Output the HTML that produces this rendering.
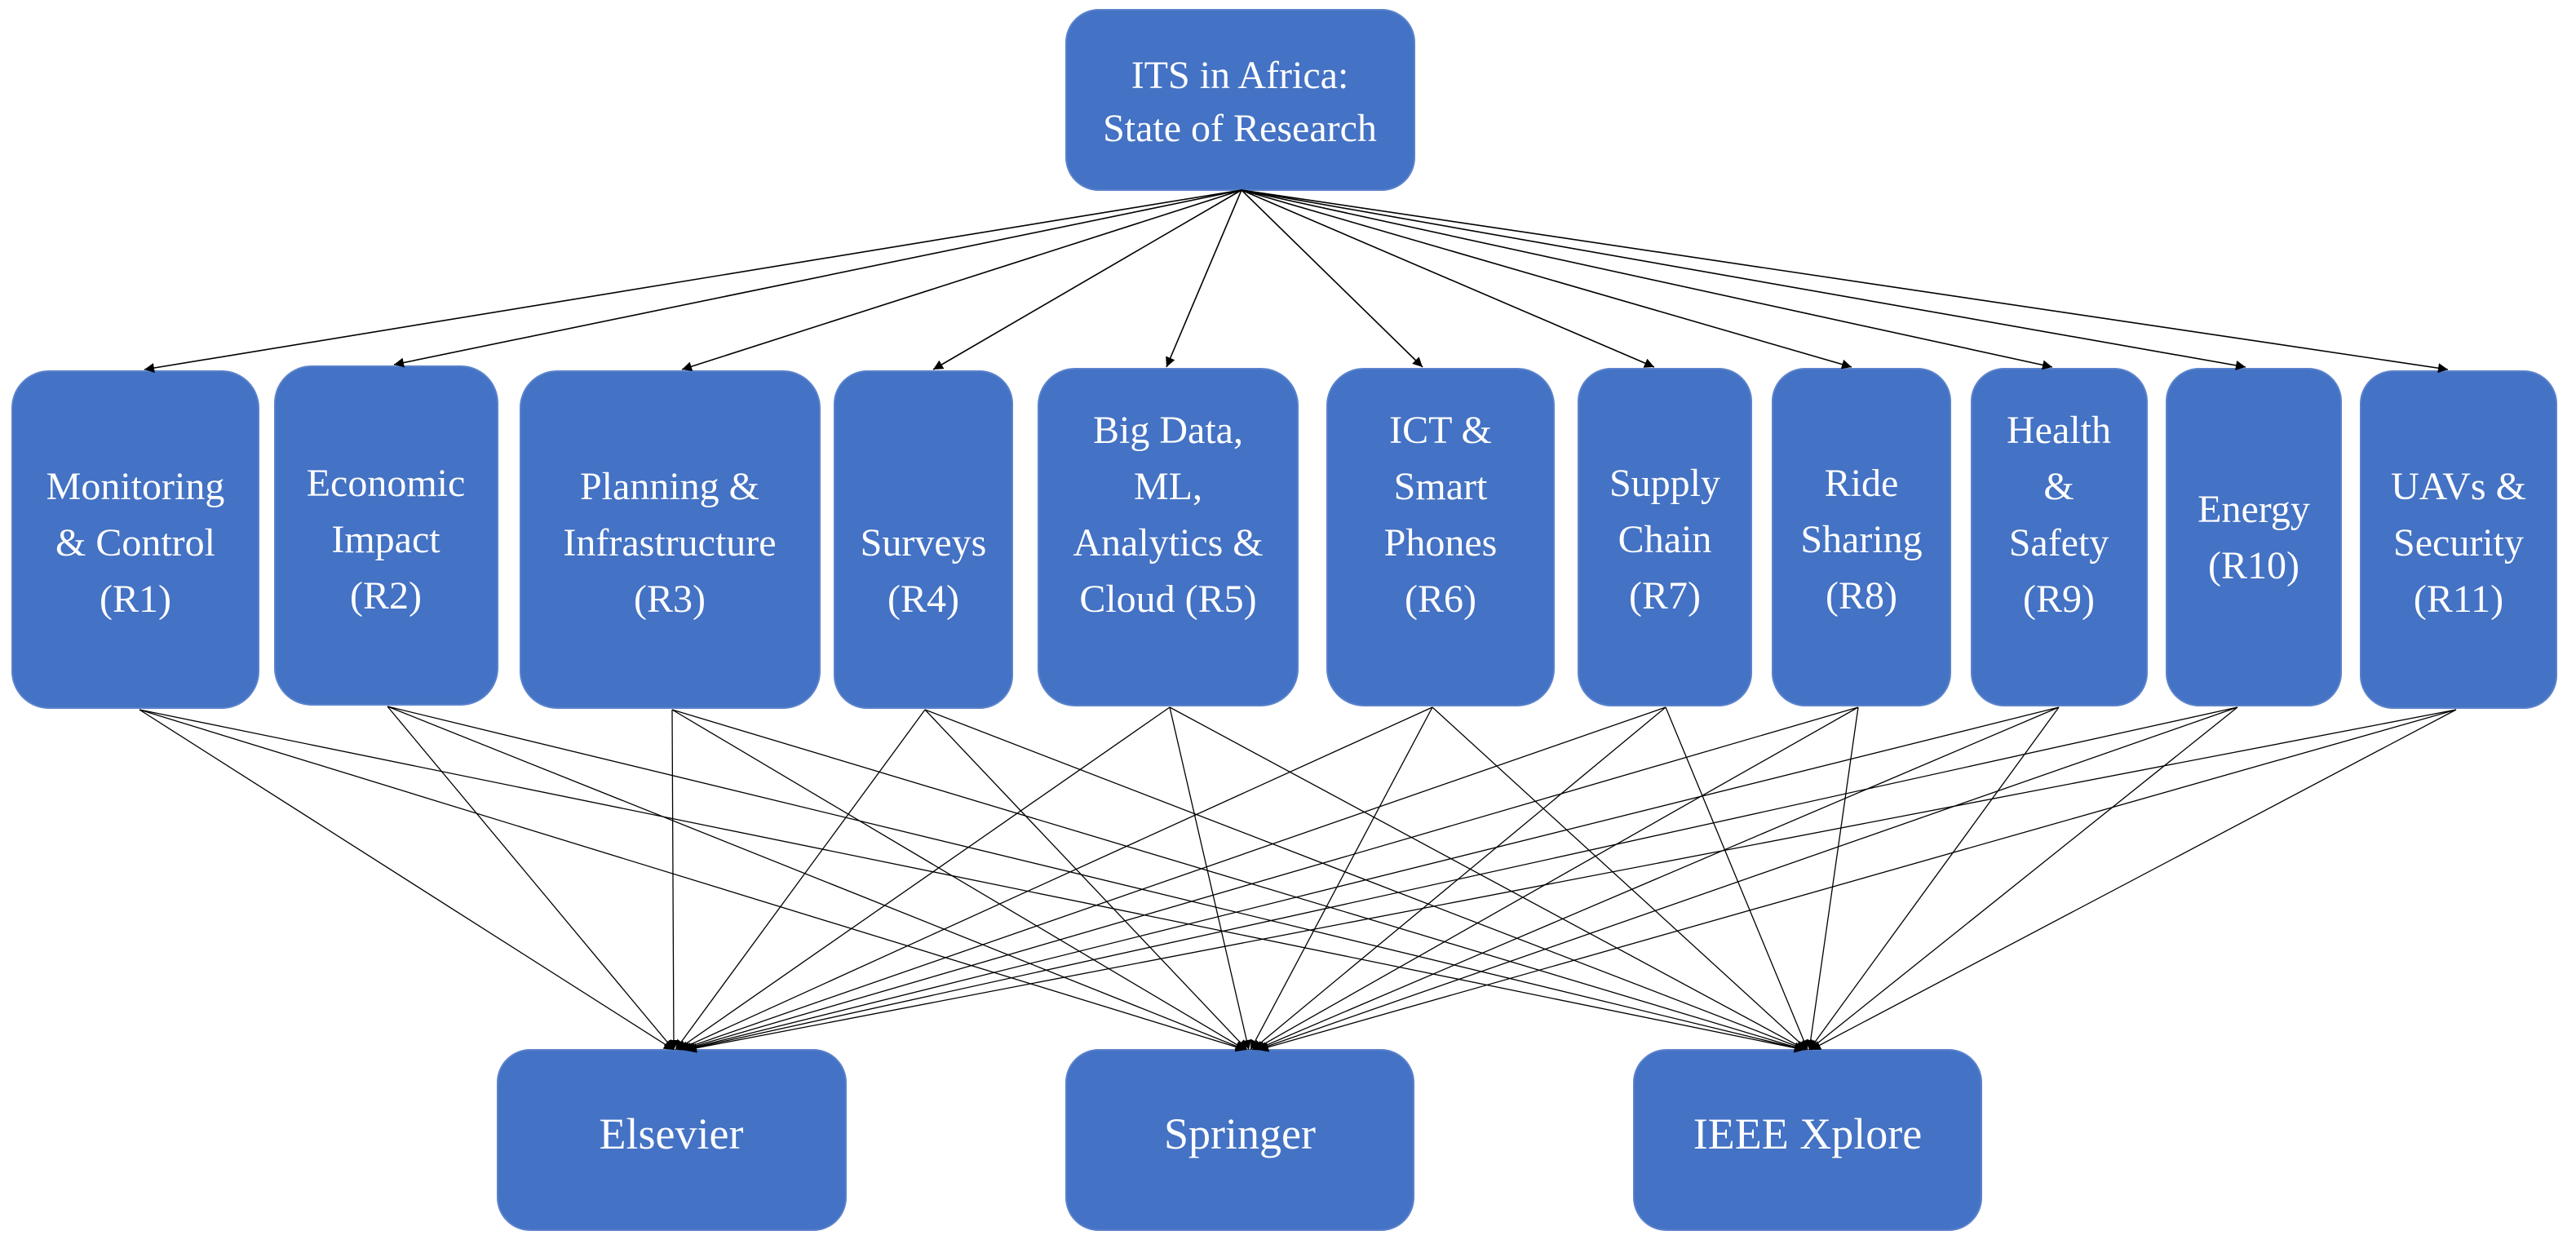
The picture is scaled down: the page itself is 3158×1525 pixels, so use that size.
<!DOCTYPE html>
<html><head><meta charset="utf-8"><style>
html,body{margin:0;padding:0;background:#fff;}
svg{display:block;}
text{font-family:"Liberation Serif",serif;fill:#fff;text-anchor:middle;}
</style></head><body>
<svg width="3158" height="1525" viewBox="0 0 3158 1525" xmlns="http://www.w3.org/2000/svg">
<defs>
<marker id="a" viewBox="0 0 10 10" refX="10" refY="5" markerWidth="16" markerHeight="12" markerUnits="userSpaceOnUse" orient="auto">
<path d="M0,0 L10,5 L0,10 z" fill="#000"/>
</marker>
</defs>
<g fill="#4472C4" stroke="#5a82cc" stroke-width="2">
<rect x="1307" y="12" width="427" height="221" rx="40"/>
<rect x="15" y="455" width="302" height="413" rx="45"/>
<rect x="337" y="449" width="273" height="415" rx="45"/>
<rect x="638" y="455" width="367" height="413" rx="45"/>
<rect x="1023" y="455" width="218" height="413" rx="40"/>
<rect x="1273" y="452" width="318" height="413" rx="45"/>
<rect x="1627" y="452" width="278" height="413" rx="45"/>
<rect x="1935" y="452" width="212" height="413" rx="40"/>
<rect x="2173" y="452" width="218" height="413" rx="40"/>
<rect x="2417" y="452" width="215" height="413" rx="40"/>
<rect x="2656" y="452" width="214" height="413" rx="40"/>
<rect x="2894" y="455" width="240" height="413" rx="40"/>
<rect x="610" y="1287" width="427" height="221" rx="40"/>
<rect x="1307" y="1287" width="426" height="221" rx="40"/>
<rect x="2003" y="1287" width="426" height="221" rx="40"/>
</g>
<g stroke="#000" stroke-width="1.6" fill="none" marker-end="url(#a)">
<line x1="1522" y1="233" x2="177" y2="453"/>
<line x1="1522" y1="233" x2="483" y2="447"/>
<line x1="1522" y1="233" x2="836" y2="453"/>
<line x1="1522" y1="233" x2="1144" y2="453"/>
<line x1="1522" y1="233" x2="1430" y2="450"/>
<line x1="1522" y1="233" x2="1744" y2="450"/>
<line x1="1522" y1="233" x2="2028" y2="450"/>
<line x1="1522" y1="233" x2="2270" y2="450"/>
<line x1="1522" y1="233" x2="2516" y2="450"/>
<line x1="1522" y1="233" x2="2753" y2="450"/>
<line x1="1522" y1="233" x2="3001" y2="453"/>
</g>
<g stroke="#000" stroke-width="1.3" fill="none" marker-end="url(#a)">
<line x1="171" y1="870" x2="826" y2="1287"/><line x1="171" y1="870" x2="1527" y2="1287"/><line x1="171" y1="870" x2="2212" y2="1287"/>
<line x1="475" y1="866" x2="826" y2="1287"/><line x1="475" y1="866" x2="1527" y2="1287"/><line x1="475" y1="866" x2="2212" y2="1287"/>
<line x1="824" y1="870" x2="826" y2="1287"/><line x1="824" y1="870" x2="1527" y2="1287"/><line x1="824" y1="870" x2="2212" y2="1287"/>
<line x1="1134" y1="870" x2="828" y2="1287"/><line x1="1134" y1="870" x2="1529" y2="1287"/><line x1="1134" y1="870" x2="2214" y2="1287"/>
<line x1="1434" y1="867" x2="830" y2="1287"/><line x1="1434" y1="867" x2="1531" y2="1287"/><line x1="1434" y1="867" x2="2214" y2="1287"/>
<line x1="1756" y1="867" x2="832" y2="1287"/><line x1="1756" y1="867" x2="1533" y2="1287"/><line x1="1756" y1="867" x2="2216" y2="1287"/>
<line x1="2042" y1="867" x2="834" y2="1287"/><line x1="2042" y1="867" x2="1535" y2="1287"/><line x1="2042" y1="867" x2="2216" y2="1287"/>
<line x1="2278" y1="867" x2="836" y2="1287"/><line x1="2278" y1="867" x2="1537" y2="1287"/><line x1="2278" y1="867" x2="2218" y2="1287"/>
<line x1="2524" y1="867" x2="838" y2="1287"/><line x1="2524" y1="867" x2="1539" y2="1287"/><line x1="2524" y1="867" x2="2218" y2="1287"/>
<line x1="2743" y1="867" x2="840" y2="1287"/><line x1="2743" y1="867" x2="1541" y2="1287"/><line x1="2743" y1="867" x2="2218" y2="1287"/>
<line x1="3011" y1="870" x2="842" y2="1287"/><line x1="3011" y1="870" x2="1543" y2="1287"/><line x1="3011" y1="870" x2="2220" y2="1287"/>
</g>
<g font-size="48">
<text x="1520" y="108">ITS in Africa:</text>
<text x="1520" y="173">State of Research</text>
<text x="166" y="612">Monitoring</text><text x="166" y="681">&amp; Control</text><text x="166" y="750">(R1)</text>
<text x="473" y="608">Economic</text><text x="473" y="677">Impact</text><text x="473" y="746">(R2)</text>
<text x="821" y="612">Planning &amp;</text><text x="821" y="681">Infrastructure</text><text x="821" y="750">(R3)</text>
<text x="1132" y="681">Surveys</text><text x="1132" y="750">(R4)</text>
<text x="1432" y="543">Big Data,</text><text x="1432" y="612">ML,</text><text x="1432" y="681">Analytics &amp;</text><text x="1432" y="750">Cloud (R5)</text>
<text x="1766" y="543">ICT &amp;</text><text x="1766" y="612">Smart</text><text x="1766" y="681">Phones</text><text x="1766" y="750">(R6)</text>
<text x="2041" y="608">Supply</text><text x="2041" y="677">Chain</text><text x="2041" y="746">(R7)</text>
<text x="2282" y="608">Ride</text><text x="2282" y="677">Sharing</text><text x="2282" y="746">(R8)</text>
<text x="2524" y="543">Health</text><text x="2524" y="612">&amp;</text><text x="2524" y="681">Safety</text><text x="2524" y="750">(R9)</text>
<text x="2763" y="640">Energy</text><text x="2763" y="709">(R10)</text>
<text x="3014" y="612">UAVs &amp;</text><text x="3014" y="681">Security</text><text x="3014" y="750">(R11)</text>
</g>
<g font-size="54">
<text x="823" y="1408">Elsevier</text>
<text x="1520" y="1408">Springer</text>
<text x="2216" y="1408">IEEE Xplore</text>
</g>
</svg>
</body></html>
